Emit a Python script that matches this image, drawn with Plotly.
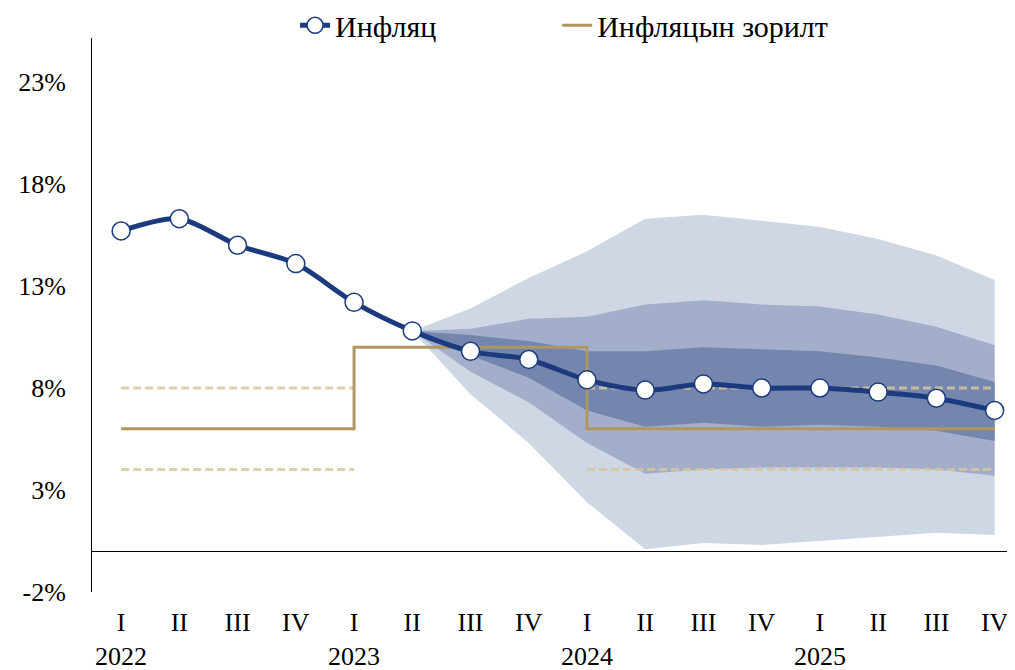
import plotly.graph_objects as go

quarters = ["I", "II", "III", "IV"] * 4
years = ["2022", "2023", "2024", "2025"]

inflation = [15.7, 16.3, 15.0, 14.1, 12.2, 10.8, 9.8, 9.4, 8.4, 7.9, 8.2, 8.0, 8.0, 7.8, 7.5, 6.9]

# target (step) and its band
target_x = [0, 4, 8, 15]
target = [6, 10, 6, 6]
band_a_x = [0, 4]
band_b_x = [8, 15]
target_hi = 8
target_lo = 4

# fan chart (from 2023 II, index 5)
fan_start = 5
outer_hi = [10.8, 11.9, 13.4, 14.7, 16.3, 16.5, 16.2, 15.9, 15.3, 14.5, 13.3]
mid_hi = [10.8, 10.9, 11.4, 11.5, 12.1, 12.3, 12.1, 12.0, 11.6, 11.0, 10.1]
in_hi = [10.8, 10.6, 10.3, 9.8, 9.8, 10.0, 9.9, 9.8, 9.5, 9.1, 8.3]
in_lo = [10.8, 9.6, 8.5, 6.9, 6.1, 6.3, 6.1, 6.2, 6.1, 5.9, 5.4]
mid_lo = [10.8, 8.8, 7.3, 5.3, 3.8, 4.0, 4.1, 4.1, 4.1, 4.0, 3.7]
out_lo = [10.8, 7.7, 5.3, 2.4, 0.1, 0.4, 0.3, 0.5, 0.7, 0.9, 0.8]

y_ticks = [-2, 3, 8, 13, 18, 23]

FONT = "Liberation Serif, Times New Roman, serif"
x_idx = list(range(len(quarters)))
ticktext = []
for i, q in enumerate(quarters):
    if i % 4 == 0:
        ticktext.append(q + "<br>" + years[i // 4])
    else:
        ticktext.append(q)

fig = go.Figure()

fx = list(range(fan_start, fan_start + len(outer_hi)))


def band(hi, lo, color):
    fig.add_trace(go.Scatter(
        x=fx + fx[::-1], y=hi + lo[::-1], fill="toself", fillcolor=color,
        mode="lines", line=dict(width=0), showlegend=False, hoverinfo="skip"))


band(outer_hi, out_lo, "#cfd7e4")
band(mid_hi, mid_lo, "#a3afca")
band(in_hi, in_lo, "#7486ae")

for xs in (band_a_x, band_b_x):
    for v in (target_hi, target_lo):
        fig.add_trace(go.Scatter(
            x=xs, y=[v, v], mode="lines",
            line=dict(color="rgba(214,198,160,0.85)", width=3, dash="8px,4px"),
            showlegend=False, hoverinfo="skip"))

fig.add_trace(go.Scatter(
    x=target_x, y=target, mode="lines", name="Инфляцын зорилт",
    line=dict(color="#b09660", width=3, shape="hv"), legend="legend2"))

fig.add_trace(go.Scatter(
    x=x_idx, y=inflation, mode="lines+markers", name="Инфляц",
    line=dict(color="#1c3a7e", width=5, shape="spline", smoothing=0.8),
    marker=dict(size=18, color="white", line=dict(color="#1c3a7e", width=1.5)),
    legend="legend"))

leg_common = dict(orientation="h", y=1.023, yanchor="middle", xanchor="left",
                  font=dict(size=30), bgcolor="rgba(0,0,0,0)")

# page body has an 8px margin, so the figure is sized to fit the 1015x670 window
fig.update_layout(
    width=1007, height=662,
    margin=dict(l=84, r=0, t=30, b=78, autoexpand=False),
    paper_bgcolor="white", plot_bgcolor="white",
    font=dict(family=FONT, size=26, color="black"),
    showlegend=True,
    legend=dict(x=0.22, **leg_common),
    legend2=dict(x=0.504, **leg_common),
    xaxis=dict(range=[-0.5, 15.35], tickvals=x_idx, ticktext=ticktext,
               showgrid=False, zeroline=False, showline=False, ticks="",
               tickangle=0, ticklabelstandoff=12, automargin=False),
    yaxis=dict(range=[-2, 25.16], tickvals=y_ticks,
               ticktext=[f"{v}%" for v in y_ticks],
               showgrid=False, zeroline=True, zerolinecolor="black", zerolinewidth=1,
               showline=True, linecolor="black", linewidth=1, ticks="",
               ticklabelstandoff=20, automargin=False),
)

fig.write_html("out.html")
